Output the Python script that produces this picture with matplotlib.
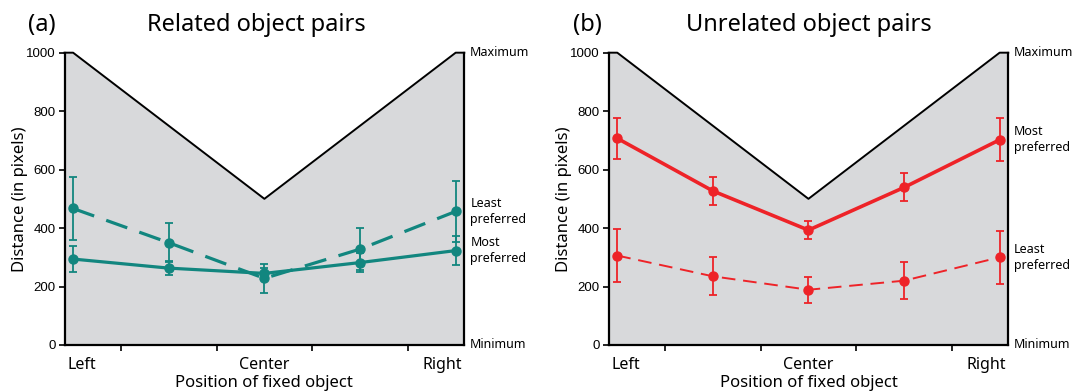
import numpy as np
import matplotlib
matplotlib.use("Agg")
from matplotlib import pyplot as plt

# positions of the fixed object
positions = [0, 1, 2, 3, 4]
pos_labels = ["Left", "Center", "Right"]

# maximum possible distance for each position (the grey area)
max_dist = [1000, 750, 500, 750, 1000]

# (a) related object pairs
rel_most = [294, 263, 245, 282, 323]
rel_most_err = [43, 25, 18, 32, 50]
rel_least = [467, 350, 228, 328, 457]
rel_least_err = [107, 67, 50, 72, 104]

# (b) unrelated object pairs
unrel_most = [707, 527, 393, 539, 702]
unrel_most_err = [71, 49, 31, 48, 73]
unrel_least = [306, 235, 189, 220, 300]
unrel_least_err = [92, 65, 44, 64, 90]

yticks = [0, 200, 400, 600, 800, 1000]

TEAL = "#12867f"
RED = "#ee2328"
GREY = "#d8d9db"
FONT = "Noto Sans"
XLIM = (-0.09, 4.09)

plt.rcParams['font.family'] = [FONT, 'DejaVu Sans']


def setup_axes(ax):
    ax.set_facecolor("white")
    ax.set_xlim(*XLIM)
    ax.set_ylim(0, 1000)
    # grey region under the maximum distance
    xs = [XLIM[0]] + positions + [XLIM[1]]
    ys = [max_dist[0]] + max_dist + [max_dist[-1]]
    ax.fill_between(xs, 0, ys, color=GREY, lw=0, zorder=0)
    ax.plot(xs, ys, color="black", lw=1.4, zorder=1, clip_on=False)

    for s in ["left", "right", "bottom"]:
        ax.spines[s].set_linewidth(1.6)
        ax.spines[s].set_zorder(5)
    ax.spines["top"].set_visible(False)

    ax.set_yticks(yticks)
    ax.set_yticklabels([str(v) for v in yticks], fontfamily="Liberation Sans",
                       fontsize=9.5)
    ax.tick_params(axis="y", direction="out", length=4, width=1.2, pad=2.5)
    ax.set_xticks([0.5, 1.5, 2.5, 3.5])
    ax.set_xticklabels([])
    ax.tick_params(axis="x", direction="out", length=4, width=1.2)

    tr = ax.get_xaxis_transform()
    ax.text(-0.06, -0.082, pos_labels[0], transform=tr, ha="left",
            va="baseline", fontsize=11.5)
    ax.text(2, -0.082, pos_labels[1], transform=tr, ha="center",
            va="baseline", fontsize=11.5)
    ax.text(4.07, -0.082, pos_labels[2], transform=tr, ha="right",
            va="baseline", fontsize=11.5)
    ax.text(0.5, -0.143, "Position of fixed object", transform=ax.transAxes,
            ha="center", va="baseline", fontsize=12)

    ax.set_ylabel("Distance (in pixels)", fontsize=12)
    ax.yaxis.set_label_coords(-0.0925, 0.5)

    ty = ax.get_yaxis_transform()
    ax.text(1.013, 1000, "Maximum", transform=ty, ha="left", va="center",
            fontsize=9)
    ax.text(1.013, 0, "Minimum", transform=ty, ha="left", va="center",
            fontsize=9)


def series(ax, y, err, color, lw, dashes=None):
    kw = dict(color=color, marker="o", ms=6.5, mec=color, mfc=color, lw=lw,
              elinewidth=1.3, capsize=3.2, capthick=1.3, zorder=3)
    if dashes is not None:
        kw["dashes"] = dashes
    ax.errorbar(positions, y, yerr=err, **kw)


def side_label(ax, y, text):
    ty = ax.get_yaxis_transform()
    ax.text(1.015, y, text, transform=ty, ha="left", va="center",
            fontsize=9, linespacing=1.3)


fig = plt.figure(figsize=(10.75, 3.92), dpi=100)
ax_a = fig.add_axes([0.0600, 0.1199, 0.3719, 0.7457])
ax_b = fig.add_axes([0.5662, 0.1199, 0.3717, 0.7457])

setup_axes(ax_a)
series(ax_a, rel_least, rel_least_err, TEAL, 2.3, dashes=(7, 4))
series(ax_a, rel_most, rel_most_err, TEAL, 2.3)
side_label(ax_a, rel_least[-1], "Least\npreferred")
side_label(ax_a, rel_most[-1], "Most\npreferred")

setup_axes(ax_b)
series(ax_b, unrel_most, unrel_most_err, RED, 2.6)
series(ax_b, unrel_least, unrel_least_err, RED, 1.4, dashes=(7, 4))
side_label(ax_b, unrel_most[-1], "Most\npreferred")
side_label(ax_b, unrel_least[-1], "Least\npreferred")

fig.text(0.0256, 0.9217, "(a)", ha="left", va="baseline", fontsize=17)
fig.text(0.2388, 0.9217, "Related object pairs", ha="center", va="baseline",
         fontsize=17)
fig.text(0.5327, 0.9217, "(b)", ha="left", va="baseline", fontsize=17)
fig.text(0.7522, 0.9217, "Unrelated object pairs", ha="center",
         va="baseline", fontsize=17)

fig.savefig("out.png", dpi=100, facecolor="white")
